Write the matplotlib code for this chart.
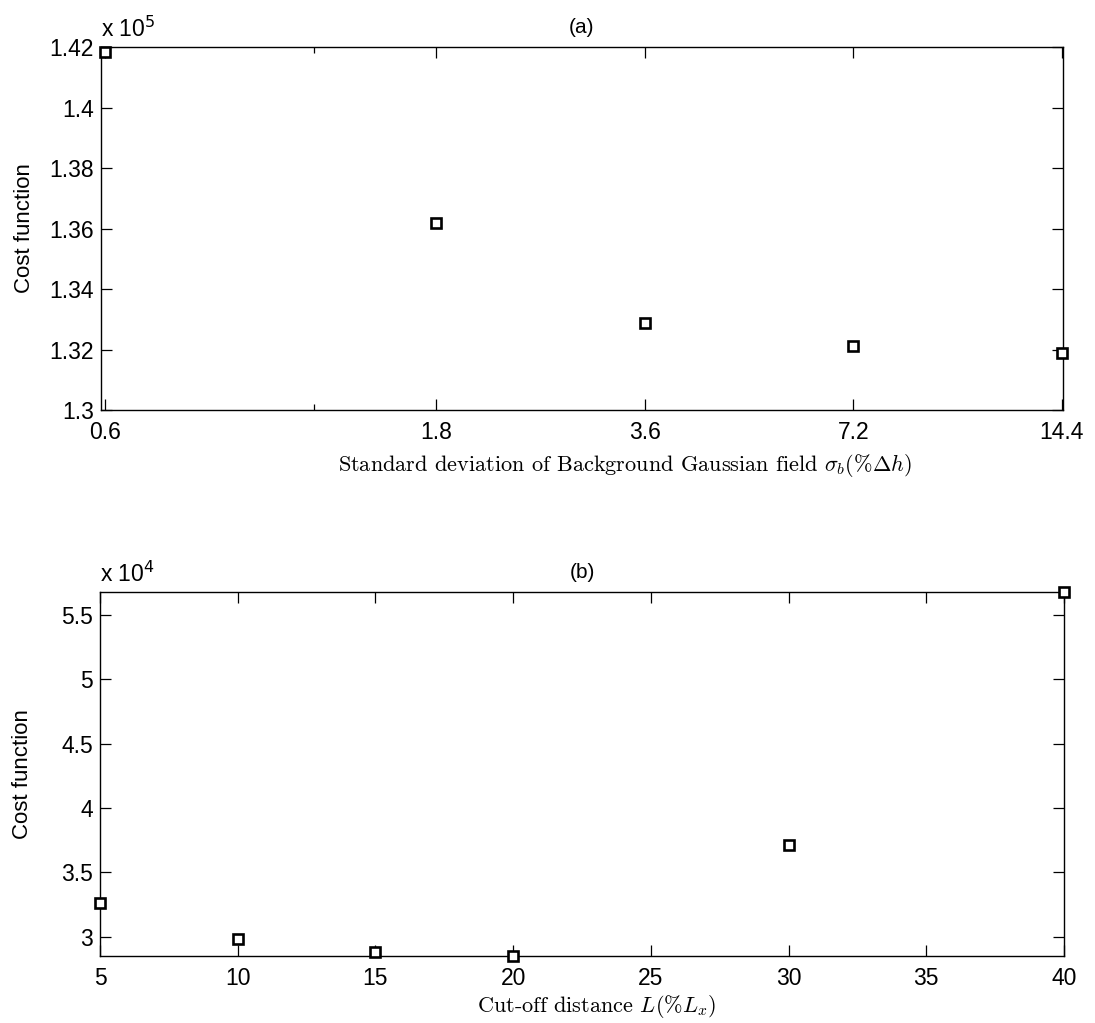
import matplotlib
matplotlib.use("Agg")
import matplotlib.pyplot as plt
from matplotlib.ticker import FixedLocator, NullFormatter, FuncFormatter

# (a) cost vs background std
sigma_b = [0.6, 1.8, 3.6, 7.2, 14.4]
cost_a = [1.4184e5, 1.3618e5, 1.3289e5, 1.3212e5, 1.3187e5]
sigma_ticks = [0.6, 1.8, 3.6, 7.2, 14.4]
sigma_labels = ['0.6', '1.8', '3.6', '7.2', '14.4']

# (b) cost vs cut-off distance
cutoff = [5, 10, 15, 20, 30, 40]
cost_b = [3.26e4, 2.982e4, 2.883e4, 2.85e4, 3.71e4, 5.68e4]

plt.rcParams['font.family'] = ['Liberation Sans', 'DejaVu Sans']

fig = plt.figure(figsize=(10.95, 10.23), dpi=100)
ax1 = fig.add_axes([0.0922, 0.5992, 0.8785, 0.3548])
ax2 = fig.add_axes([0.0913, 0.0655, 0.8804, 0.3558])

mk = dict(ls='none', marker='s', ms=7, mew=1.9, mfc='white', mec='black', clip_on=False, zorder=5)


def style(ax):
    ax.tick_params(which='both', direction='in', top=True, right=True, labelsize=16.5, width=0.9)
    ax.tick_params(which='major', length=8)
    ax.tick_params(which='minor', length=4.5)
    ax.tick_params(axis='y', pad=5)
    ax.tick_params(axis='x', pad=8)
    for s in ax.spines.values():
        s.set_linewidth(1.0)


# --- (a)
ax1.plot(sigma_b, cost_a, **mk)
ax1.set_xscale('log')
ax1.set_xlim(0.5915, 14.45)
ax1.xaxis.set_major_locator(FixedLocator(sigma_ticks))
ax1.set_xticklabels(sigma_labels)
ax1.xaxis.set_minor_locator(FixedLocator([1.2]))
ax1.xaxis.set_minor_formatter(NullFormatter())
ax1.set_ylim(1.3e5, 1.42e5)
ax1.set_yticks([1.3e5 + i * 0.02e5 for i in range(7)])
ax1.yaxis.set_major_formatter(FuncFormatter(lambda v, p: f'{v / 1e5:g}'))
style(ax1)
ax1.set_title('(a)', fontsize=15, pad=10)
ax1.text(0.0, 1.015, r'x 10$^{5}$', transform=ax1.transAxes, ha='left', va='bottom', fontsize=16.5)
ax1.set_ylabel('Cost function', fontsize=16)
ax1.yaxis.set_label_coords(-0.08, 0.5)
ax1.yaxis.label.set_va('center')
ax1.set_xlabel(r'Standard deviation of Background Gaussian field $\sigma_b(\%\Delta h)$',
               fontsize=16, fontfamily='cmr10', math_fontfamily='cm')
ax1.xaxis.set_label_coords(0.545, -0.152)
ax1.xaxis.label.set_va('center')

# --- (b)
ax2.plot(cutoff, cost_b, **mk)
ax2.set_xlim(5, 40)
ax2.set_xticks(range(5, 41, 5))
ax2.set_ylim(2.85e4, 5.679e4)
ax2.set_yticks([3e4 + i * 0.5e4 for i in range(6)])
ax2.yaxis.set_major_formatter(FuncFormatter(lambda v, p: f'{v / 1e4:g}'))
style(ax2)
ax2.set_title('(b)', fontsize=15, pad=10)
ax2.text(0.0, 1.015, r'x 10$^{4}$', transform=ax2.transAxes, ha='left', va='bottom', fontsize=16.5)
ax2.set_ylabel('Cost function', fontsize=16)
ax2.yaxis.set_label_coords(-0.08, 0.5)
ax2.yaxis.label.set_va('center')
ax2.set_xlabel(r'Cut-off distance $L(\%L_x)$', fontsize=16, fontfamily='cmr10', math_fontfamily='cm')
ax2.xaxis.set_label_coords(0.515, -0.14)
ax2.xaxis.label.set_va('center')

fig.savefig('out.png', dpi=100)
